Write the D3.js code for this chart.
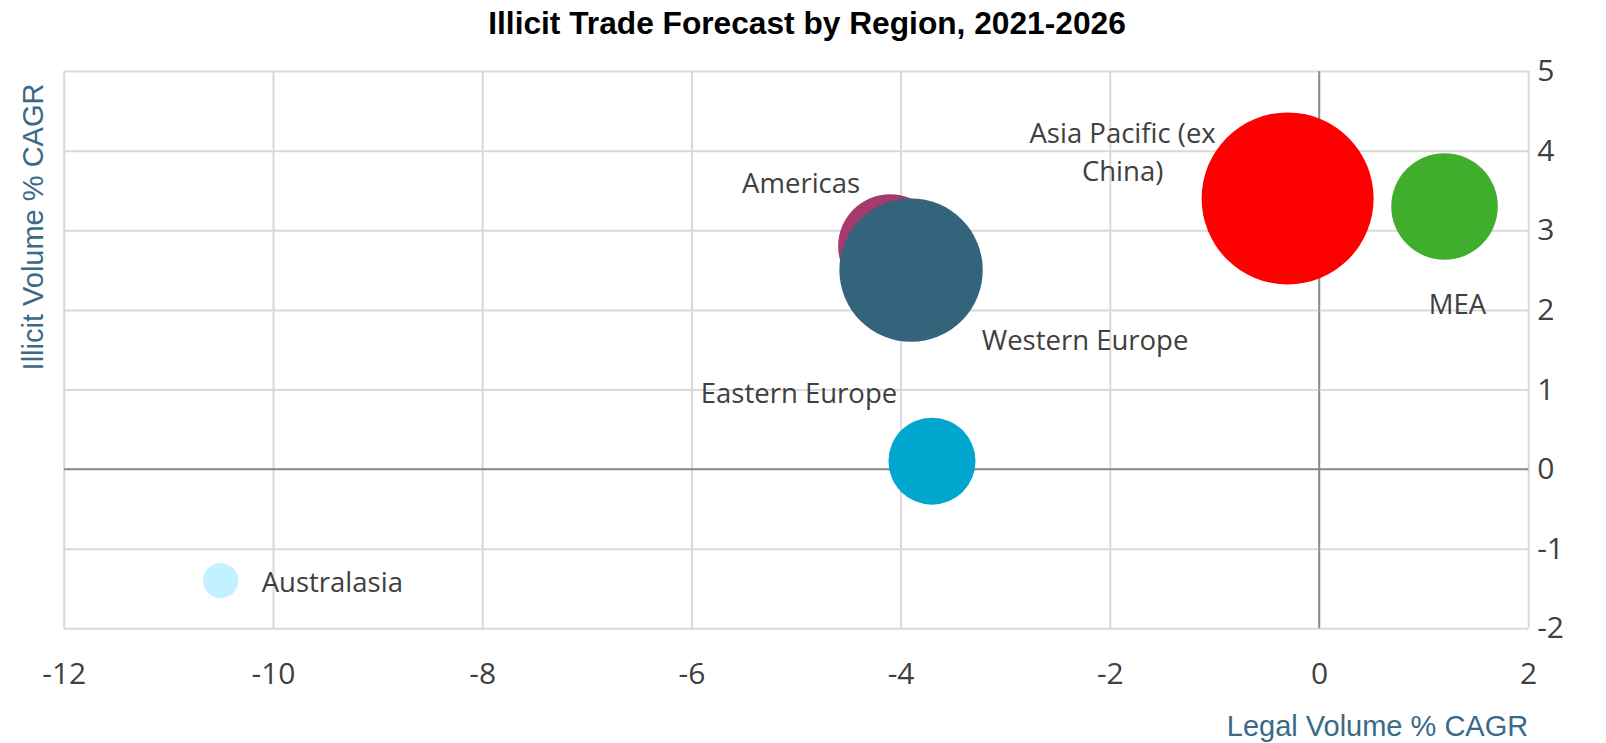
<!DOCTYPE html>
<html>
<head>
<meta charset="utf-8">
<title>Illicit Trade Forecast by Region, 2021-2026</title>
<script src="https://cdn.jsdelivr.net/npm/d3@7"></script>
<style>
  html, body { margin: 0; padding: 0; background: #ffffff; }
  svg { display: block; }
</style>
</head>
<body>
<svg id="chart" width="1606" height="743"></svg>
<script>
// ---- Data -------------------------------------------------------------
const regions     = ["Americas", "Western Europe", "Asia Pacific (ex China)", "MEA", "Eastern Europe", "Australasia"];
const legalCagr   = [-4.1, -3.9, -0.3, 1.2, -3.7, -10.5];   // x: legal volume % CAGR
const illicitCagr = [2.8, 2.5, 3.4, 3.3, 0.1, -1.4];        // y: illicit volume % CAGR
const bubbleSize  = [36.6, 69.5, 100, 38.4, 25.6, 4.2];     // relative illicit volume
const xTicks = [-12, -10, -8, -6, -4, -2, 0, 2];
const yTicks = [-2, -1, 0, 1, 2, 3, 4, 5];

// ---- Styling ---------------------------------------------------------
const fills = {
  "Americas": "#a53a6e",
  "Western Europe": "#34637c",
  "Asia Pacific (ex China)": "#ff0000",
  "MEA": "#41ad2d",
  "Eastern Europe": "#00a6ce",
  "Australasia": "#c3f1ff"
};
// label placement relative to each bubble centre
const labelPlacement = {
  "Americas":                { dx: -89,  dy: -63, anchor: "middle", lines: ["Americas"] },
  "Western Europe":          { dx: 174,  dy: 70,  anchor: "middle", lines: ["Western Europe"] },
  "Asia Pacific (ex China)": { dx: -165, dy: -65, anchor: "middle", lines: ["Asia Pacific (ex", "China)"] },
  "MEA":                     { dx: 13,   dy: 98,  anchor: "middle", lines: ["MEA"] },
  "Eastern Europe":          { dx: -133, dy: -68, anchor: "middle", lines: ["Eastern Europe"] },
  "Australasia":             { dx: 41,   dy: 2,   anchor: "start",  lines: ["Australasia"] }
};

const W = 1606, H = 743;
const plot = { left: 63.8, right: 1528.2, top: 71.1, bottom: 628.3 };

const svg = d3.select("#chart");

const x = d3.scaleLinear().domain([xTicks[0], xTicks[xTicks.length - 1]]).range([plot.left, plot.right]);
const y = d3.scaleLinear().domain([yTicks[0], yTicks[yTicks.length - 1]]).range([plot.bottom, plot.top]);
const r = d3.scaleSqrt().domain([0, d3.max(bubbleSize)]).range([0, 86]);

// ---- Gridlines -------------------------------------------------------
const gridColor = "#d9d9d9";
const zeroColor = "#8a8a8a";

const gx = svg.append("g").attr("class", "grid-x")
  .attr("transform", `translate(0,${plot.bottom})`)
  .call(d3.axisBottom(x).tickValues(xTicks).tickSize(-(plot.bottom - plot.top)).tickFormat(""));
gx.select(".domain").remove();
gx.selectAll("line")
  .attr("stroke", d => d === 0 ? zeroColor : gridColor)
  .attr("stroke-width", d => d === 0 ? 1.5 : 2);

const gy = svg.append("g").attr("class", "grid-y")
  .attr("transform", `translate(${plot.left},0)`)
  .call(d3.axisLeft(y).tickValues(yTicks).tickSize(-(plot.right - plot.left)).tickFormat(""));
gy.select(".domain").remove();
gy.selectAll("line")
  .attr("stroke", d => d === 0 ? zeroColor : gridColor)
  .attr("stroke-width", d => d === 0 ? 1.5 : 2);

// zero axes drawn over the light grid
svg.append("line")
  .attr("x1", x(0)).attr("x2", x(0)).attr("y1", plot.top).attr("y2", plot.bottom)
  .attr("stroke", zeroColor).attr("stroke-width", 1.5);
svg.append("line")
  .attr("x1", plot.left).attr("x2", plot.right).attr("y1", y(0)).attr("y2", y(0))
  .attr("stroke", zeroColor).attr("stroke-width", 1.5);

// ---- Tick labels -----------------------------------------------------
const tickFont = "'Open Sans', 'DejaVu Sans', sans-serif";
const xAxis = svg.append("g").attr("class", "x-axis")
  .attr("transform", `translate(0,${plot.bottom})`)
  .call(d3.axisBottom(x).tickValues(xTicks).tickSize(0).tickPadding(34).tickFormat(d => String(d)));
xAxis.select(".domain").remove();
xAxis.selectAll("text")
  .attr("font-family", tickFont).attr("font-size", 30).attr("fill", "#404040");

const yAxis = svg.append("g").attr("class", "y-axis")
  .attr("transform", `translate(${plot.right},0)`)
  .call(d3.axisRight(y).tickValues(yTicks).tickSize(0).tickPadding(9).tickFormat(d => String(d)));
yAxis.select(".domain").remove();
yAxis.selectAll("text")
  .attr("font-family", tickFont).attr("font-size", 30).attr("fill", "#404040");

// ---- Bubbles ---------------------------------------------------------
const points = regions.map((name, i) => ({
  name, lx: legalCagr[i], iy: illicitCagr[i], size: bubbleSize[i]
}));

svg.append("g").attr("class", "bubbles")
  .selectAll("circle")
  .data(points)
  .join("circle")
  .attr("cx", d => x(d.lx))
  .attr("cy", d => y(d.iy))
  .attr("r", d => r(d.size))
  .attr("fill", d => fills[d.name]);

// ---- Data labels -----------------------------------------------------
const labels = svg.append("g").attr("class", "labels")
  .selectAll("text")
  .data(points)
  .join("text")
  .attr("font-family", "'Open Sans', 'DejaVu Sans', sans-serif")
  .attr("font-size", 27.5)
  .attr("fill", "#404040")
  .attr("text-anchor", d => labelPlacement[d.name].anchor);

labels.each(function (d) {
  const p = labelPlacement[d.name];
  const cx = x(d.lx) + p.dx;
  const cy = y(d.iy) + p.dy;
  d3.select(this).selectAll("tspan")
    .data(p.lines)
    .join("tspan")
    .attr("x", cx)
    .attr("y", (t, j) => cy + j * 38)
    .attr("dy", "0.35em")
    .text(t => t);
});

// ---- Titles ----------------------------------------------------------
svg.append("text")
  .attr("x", 807).attr("y", 34)
  .attr("text-anchor", "middle")
  .attr("font-family", "'Liberation Sans', Arial, sans-serif")
  .attr("font-weight", "bold")
  .attr("font-size", 31.7)
  .attr("fill", "#000000")
  .text("Illicit Trade Forecast by Region, 2021-2026");

svg.append("text")
  .attr("x", plot.right).attr("y", 735.5)
  .attr("text-anchor", "end")
  .attr("font-family", "'Liberation Sans', Arial, sans-serif")
  .attr("font-size", 29)
  .attr("fill", "#3a6a87")
  .text("Legal Volume % CAGR");

svg.append("text")
  .attr("transform", "translate(42.5,227) rotate(-90)")
  .attr("text-anchor", "middle")
  .attr("font-family", "'Liberation Sans', Arial, sans-serif")
  .attr("font-size", 29)
  .attr("fill", "#3a6a87")
  .text("Illicit Volume % CAGR");
</script>
</body>
</html>
